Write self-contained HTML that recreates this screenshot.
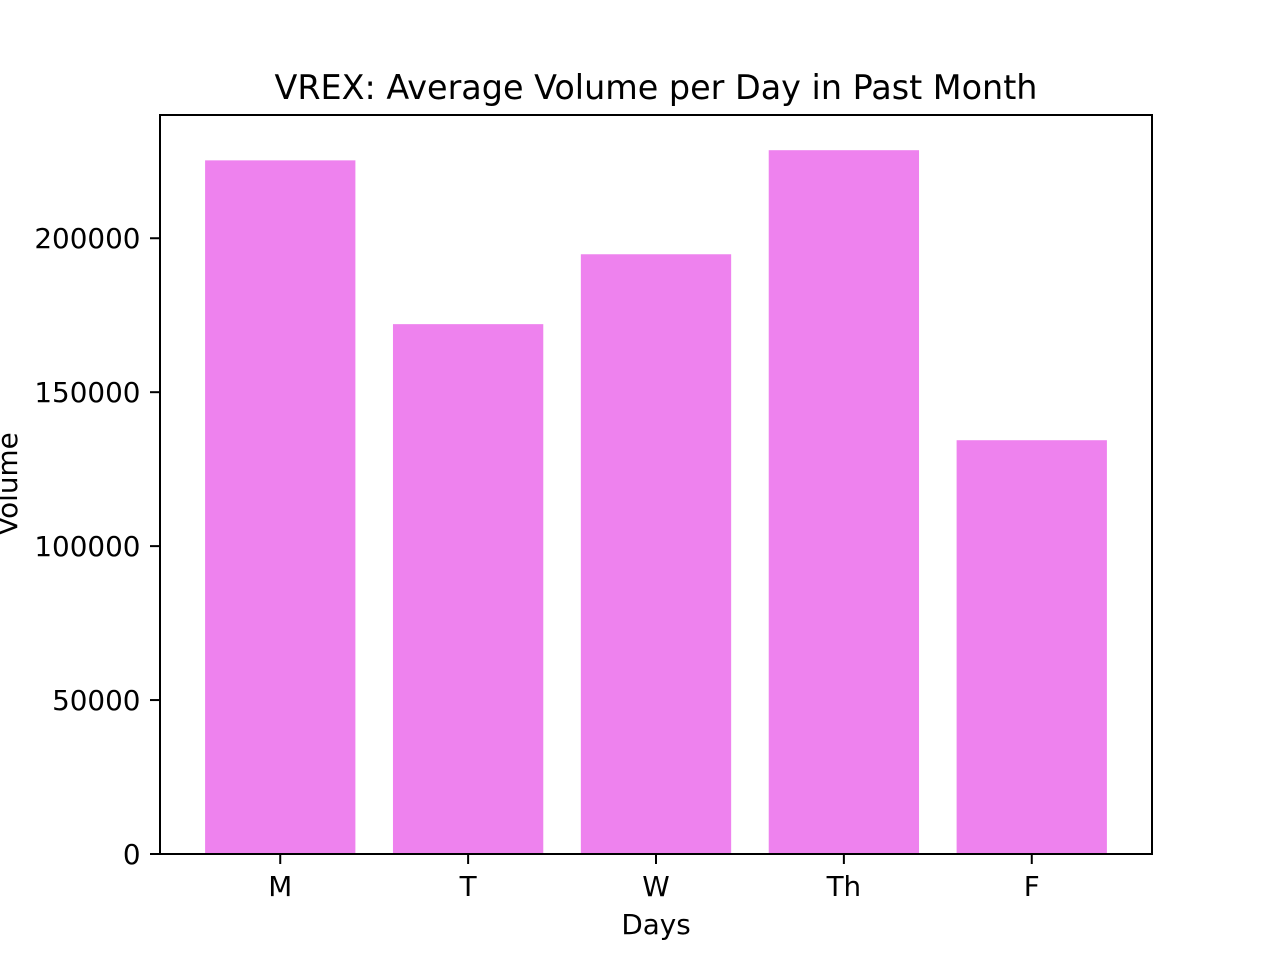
<!DOCTYPE html>
<html><head><meta charset="utf-8"><style>
html,body{margin:0;padding:0;background:#fff;}
svg{display:block;font-family:"DejaVu Sans","Liberation Sans",sans-serif;}
</style></head><body>
<svg id="chart" width="1280" height="960">
<rect width="1280" height="960" fill="#fff"/>
<g id="bars"></g>
<g id="yticks"></g>
<g id="xticks"></g>
<rect x="160" y="115" width="992" height="739" fill="none" stroke="#000" stroke-width="2"/>
<text x="656" y="99" font-size="33.4" text-anchor="middle">VREX: Average Volume per Day in Past Month</text>
<text x="656" y="934" font-size="27.8" text-anchor="middle">Days</text>
<text x="0" y="0" font-size="27.8" text-anchor="middle" transform="translate(17,484) rotate(-90)">Volume</text>
</svg>
<script>
const categories = ["M","T","W","Th","F"];
const volumes = [225300, 172100, 194800, 228600, 134400];
const yTicks = [0, 50000, 100000, 150000, 200000];

const L=160,R=1152,T=115,B=854;
const yMax = Math.max(...volumes)*1.05;
const xMin=-0.64, xMax=categories.length-1+0.64;
const xs=i=>L+(i-xMin)/(xMax-xMin)*(R-L);
const ys=v=>B-v/yMax*(B-T);
const bw=0.8*(R-L)/(xMax-xMin);
const NS="http://www.w3.org/2000/svg";
const bars=document.getElementById('bars'),yt=document.getElementById('yticks'),xt=document.getElementById('xticks');
categories.forEach((c,i)=>{
  const r=document.createElementNS(NS,'rect');
  r.setAttribute('x',xs(i)-bw/2);r.setAttribute('y',ys(volumes[i]));
  r.setAttribute('width',bw);r.setAttribute('height',B-ys(volumes[i]));
  r.setAttribute('fill','#ee82ee');
  
  
  bars.appendChild(r);
  const l=document.createElementNS(NS,'line');
  l.setAttribute('x1',xs(i));l.setAttribute('x2',xs(i));l.setAttribute('y1',B);l.setAttribute('y2',B+10);
  l.setAttribute('stroke','#000');l.setAttribute('stroke-width','2');
  
  
  xt.appendChild(l);
  const t=document.createElementNS(NS,'text');
  t.setAttribute('x',xs(i));t.setAttribute('y',B+42);t.setAttribute('font-size','27.8');t.setAttribute('text-anchor','middle');
  t.textContent=c;
  
  
  xt.appendChild(t);
});
yTicks.forEach(v=>{
  const l=document.createElementNS(NS,'line');
  l.setAttribute('x1',L-10);l.setAttribute('x2',L);l.setAttribute('y1',ys(v));l.setAttribute('y2',ys(v));
  l.setAttribute('stroke','#000');l.setAttribute('stroke-width','2');
  
  
  yt.appendChild(l);
  const t=document.createElementNS(NS,'text');
  t.setAttribute('x',L-19.5);t.setAttribute('y',ys(v)+10);t.setAttribute('font-size','27.8');t.setAttribute('text-anchor','end');
  t.textContent=String(v);
  
  
  yt.appendChild(t);
});
</script>
</body></html>
